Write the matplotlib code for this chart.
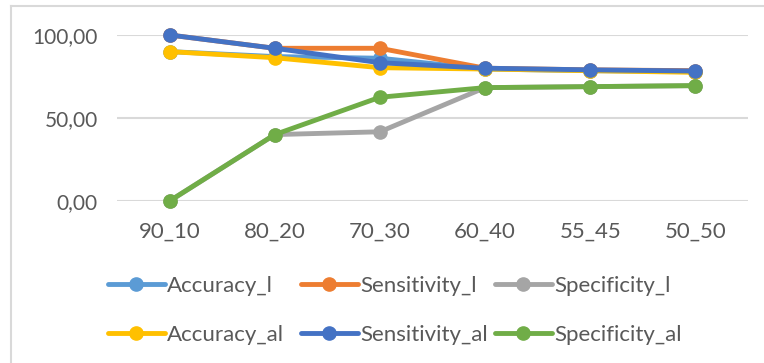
import matplotlib.pyplot as plt
from matplotlib.ticker import FuncFormatter
from matplotlib.lines import Line2D

# Datos
categorias = ["90_10", "80_20", "70_30", "60_40", "55_45", "50_50"]
accuracy_l = [90.0, 87.0, 86.0, 79.5, 78.5, 78.0]
sensitivity_l = [100.0, 92.0, 92.0, 80.0, 79.0, 78.5]
specificity_l = [0.0, 40.0, 41.7, 68.3, 68.9, 69.5]
accuracy_al = [90.0, 86.3, 80.3, 79.5, 78.5, 77.5]
sensitivity_al = [100.0, 92.0, 83.3, 80.0, 79.0, 78.3]
specificity_al = [0.0, 40.0, 62.5, 68.3, 68.9, 69.5]

series = [
    ("Accuracy_l", accuracy_l, "#5B9BD5"),
    ("Sensitivity_l", sensitivity_l, "#ED7D31"),
    ("Specificity_l", specificity_l, "#A5A5A5"),
    ("Accuracy_al", accuracy_al, "#FFC000"),
    ("Sensitivity_al", sensitivity_al, "#4472C4"),
    ("Specificity_al", specificity_al, "#70AD47"),
]

plt.rcParams["font.family"] = ["Lato", "DejaVu Sans"]
gris = "#595959"

fig = plt.figure(figsize=(7.64, 3.63), dpi=100)
ax = fig.add_axes([117 / 764, 1 - 201 / 363, (748 - 117) / 764, (201 - 35) / 363])

x = list(range(len(categorias)))
lineas = []
for nombre, valores, color in series:
    l, = ax.plot(x, valores, color=color, linewidth=3.5, marker="o", markersize=9.5,
                 label=nombre, clip_on=False, solid_capstyle="round")
    lineas.append(l)

ax.set_xlim(-0.5, len(categorias) - 0.5)
ax.set_ylim(0, 100)
ax.set_yticks([0, 50, 100])
ax.yaxis.set_major_formatter(FuncFormatter(lambda v, p: f"{v:.2f}".replace(".", ",")))
ax.set_xticks(x)
ax.set_xticklabels(categorias)
ax.grid(axis="y", color="#D9D9D9", linewidth=1.5)
ax.set_axisbelow(True)
for s in ax.spines.values():
    s.set_visible(False)
ax.tick_params(length=0, colors=gris)
ax.tick_params(axis="y", pad=14, labelsize=15)
ax.tick_params(axis="x", pad=15, labelsize=16)

# leyenda: tres columnas de igual ancho, como en Excel
col_x = [108, 301, 495]
for c in range(3):
    idx = [c, c + 3]
    leg = fig.legend([lineas[i] for i in idx], [series[i][0] for i in idx],
                     loc="upper left", bbox_to_anchor=(col_x[c] / 764, 1 - 276 / 363),
                     frameon=False, fontsize=16, handlelength=2.55, handletextpad=0.12,
                     labelspacing=1.3, borderaxespad=0, borderpad=0)
    for t in leg.get_texts():
        t.set_color(gris)

# borde del gráfico (solo arriba e izquierda visibles)
fig.add_artist(Line2D([11 / 764, 11 / 764], [0, 1 - 6 / 363], transform=fig.transFigure,
                      color="#D9D9D9", linewidth=1.5))
fig.add_artist(Line2D([11 / 764, 1], [1 - 6 / 363, 1 - 6 / 363], transform=fig.transFigure,
                      color="#D9D9D9", linewidth=1.5))

fig.savefig("out.png", dpi=100)
